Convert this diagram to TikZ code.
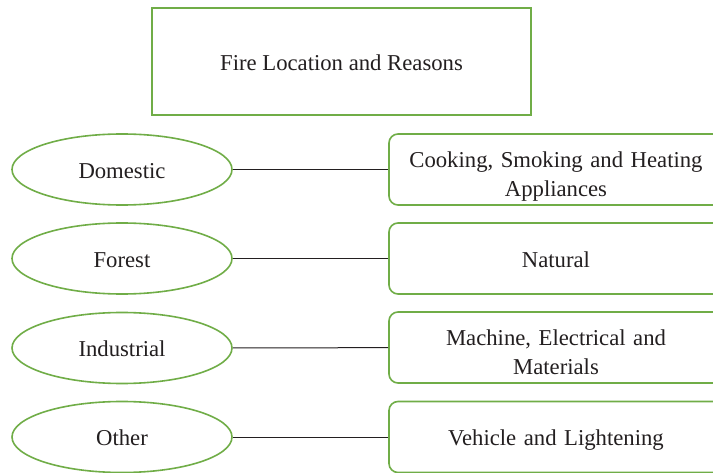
\documentclass[tikz,border=0pt]{standalone}
\usepackage{fontspec}
\setmainfont{Liberation Serif}
\usetikzlibrary{shapes.geometric}
\definecolor{fgreen}{RGB}{112,173,71}
\definecolor{ftext}{RGB}{35,31,32}
\begin{document}
\begin{tikzpicture}[x=1pt,y=-1pt,
  every node/.style={font=\fontsize{22.7}{29}\selectfont, text=ftext},
  oneline/.style={text height=17.4pt, text depth=0pt},
  twoline/.style={text height=16pt, text depth=20pt},
  titlebox/.style={draw=fgreen, line width=1.6pt, minimum width=379pt, minimum height=107pt, inner sep=0pt, oneline},
  locell/.style={ellipse, draw=fgreen, line width=1.6pt, minimum width=220pt, minimum height=71pt, inner sep=0pt, oneline},
  reasonbox/.style={draw=fgreen, line width=1.6pt, rounded corners=9pt, minimum width=334pt, minimum height=71pt, inner sep=0pt, align=center, text width=320pt},
  link/.style={draw=ftext, line width=1pt}]
\useasboundingbox (0,0) rectangle (713,473);
\clip (0,0) rectangle (713,473);
\fill[white] (0,0) rectangle (713,473);
\node[titlebox] (title) at (341.5,61.5) {Fire Location and Reasons};
\node[locell] (dom) at (122,169.5) {Domestic};
\node[locell] (for) at (122,258.5) {Forest};
\node[locell] (ind) at (122,348) {Industrial};
\node[locell] (oth) at (122,437) {Other};
\node[reasonbox, twoline] (r1) at (556,169.5) {Cooking, Smoking and Heating\\Appliances};
\node[reasonbox, oneline] (r2) at (556,258.5) {Natural};
\node[reasonbox, twoline] (r3) at (556,347.5) {Machine, Electrical and\\Materials};
\node[reasonbox, oneline] (r4) at (556,437) {Vehicle and Lightening};
\draw[link] (dom) -- (r1);
\draw[link] (for) -- (r2);
\draw[link] (ind) -- (r3);
\draw[link] (oth) -- (r4);
\end{tikzpicture}
\end{document}
